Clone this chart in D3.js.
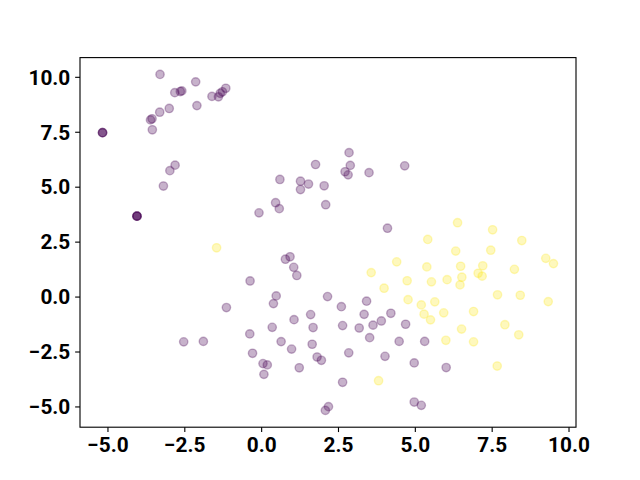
<!DOCTYPE html>
<html>
<head>
<meta charset="utf-8">
<script src="https://cdn.jsdelivr.net/npm/d3@7/dist/d3.min.js"></script>
<style>
  html, body { margin: 0; padding: 0; background: #ffffff; }
  svg { display: block; }
  .tick text { font-family: Roboto, "Liberation Sans", sans-serif; font-weight: bold; }
</style>
</head>
<body>
<svg id="chart" width="640" height="480"></svg>
<script>
// ---- data ----
const classA_x = [-3.29,-2.13,-2.81,-2.63,-2.58,-1.60,-1.39,-1.33,-1.26,-1.15,-2.09,-2.99,-3.30,-3.60,-3.55,-3.54,
  -5.16,-5.16,-5.16,-2.80,-2.97,-3.18,-4.04,-4.04,-4.04,-4.04,
  -0.07,0.61,0.47,0.59,1.28,1.28,1.54,1.77,2.86,2.90,2.73,2.83,3.51,4.67,2.05,2.10,4.11,
  0.79,0.94,1.06,1.16,-0.36,0.49,0.40,-1.13,1.61,1.07,1.69,0.36,-0.37,0.65,1.66,0.99,-2.52,-1.88,
  -0.28,0.06,0.20,0.09,1.24,1.82,1.96,2.16,2.61,3.43,3.35,4.22,3.91,3.64,2.65,3.19,4.70,3.53,4.49,
  5.32,2.85,4.03,4.98,6.02,2.65,4.98,5.21,2.09,2.19];
const classA_y = [10.11,9.77,9.28,9.33,9.36,9.11,9.09,9.25,9.32,9.48,8.69,8.56,8.39,8.04,8.09,7.59,
  7.46,7.46,7.46,5.98,5.73,5.03,3.66,3.66,3.66,3.66,
  3.81,5.33,4.27,4.00,5.25,4.87,5.12,6.01,6.55,5.97,5.68,5.54,5.64,5.95,5.04,4.18,3.11,
  1.70,1.81,1.33,0.96,0.71,0.03,-0.32,-0.50,-0.82,-1.05,-1.41,-1.40,-1.70,-2.05,-2.17,-2.39,-2.06,-2.04,
  -2.58,-3.05,-3.11,-3.54,-3.24,-2.75,-2.90,0.00,-0.46,-0.21,-0.81,-0.76,-1.11,-1.30,-1.32,-1.43,-1.26,-1.87,-2.04,
  -2.04,-2.56,-2.72,-3.02,-3.23,-3.90,-4.80,-4.95,-5.18,-5.01];
const classB_x = [-1.45,6.39,7.53,5.42,8.48,6.33,7.47,4.41,3.58,5.39,6.49,7.21,9.26,9.51,8.24,7.06,7.19,6.53,6.05,4.75,
  5.54,6.47,4.00,7.69,8.43,4.78,5.65,9.34,5.21,5.30,5.51,5.94,6.91,7.93,6.52,8.38,6.01,6.91,7.68,3.82];
const classB_y = [2.22,3.36,3.04,2.60,2.55,2.07,2.11,1.58,1.09,1.35,1.38,1.40,1.74,1.50,1.24,1.06,0.93,0.88,0.77,0.72,
  0.67,0.53,0.38,0.08,0.06,-0.14,-0.24,-0.23,-0.38,-0.80,-1.06,-0.74,-0.68,-1.28,-1.48,-1.74,-1.99,-2.06,-3.16,-3.83];
const classes = ["A", "B"];
const classColors = ["#440154", "#fde725"];
const xTicks = [-5, -2.5, 0, 2.5, 5, 7.5, 10];
const yTicks = [-5, -2.5, 0, 2.5, 5, 7.5, 10];

(function () {
  // ---- layout (matplotlib default figure) ----
  const W = 640, H = 480;
  const mLeft = 80, mRight = 576, mTop = 57.6, mBottom = 427.2;

  const points = [];
  classA_x.forEach((x, i) => points.push({x, y: classA_y[i], c: 0}));
  classB_x.forEach((x, i) => points.push({x, y: classB_y[i], c: 1}));

  function padded(ext) { const r = ext[1] - ext[0]; return [ext[0] - 0.05 * r, ext[1] + 0.05 * r]; }
  const xs = d3.scaleLinear().domain(padded(d3.extent(points, d => d.x))).range([mLeft, mRight]);
  const ys = d3.scaleLinear().domain(padded(d3.extent(points, d => d.y))).range([mBottom, mTop]);
  const color = d3.scaleOrdinal().domain([0, 1]).range(classColors);

  const svg = d3.select("#chart");
  svg.append("rect").attr("width", W).attr("height", H).attr("fill", "#ffffff");

  const fmt = v => d3.format(".1f")(v).replace("-", "\u2212").replace("\u2212", "\u2212");
  const tickLen = 4.86, pad = 4.86, fs = 20.8;

  svg.append("g").selectAll("circle").data(points).join("circle")
    .attr("cx", d => xs(d.x)).attr("cy", d => ys(d.y)).attr("r", 4.17)
    .attr("fill", d => color(d.c)).attr("fill-opacity", 0.3)
    .attr("stroke", d => color(d.c)).attr("stroke-opacity", 0.3).attr("stroke-width", 1.39);

  const gx = svg.append("g").attr("transform", `translate(0,${mBottom})`)
    .call(d3.axisBottom(xs).tickValues(xTicks).tickFormat(fmt).tickSize(tickLen).tickPadding(pad));
  gx.select(".domain").remove();
  gx.selectAll(".tick line").attr("stroke", "#000").attr("stroke-width", 1.11);
  gx.selectAll(".tick text").attr("font-size", fs).attr("fill", "#000").attr("dy", "0.72em");

  const gy = svg.append("g").attr("transform", `translate(${mLeft},0)`)
    .call(d3.axisLeft(ys).tickValues(yTicks).tickFormat(fmt).tickSize(tickLen).tickPadding(pad));
  gy.select(".domain").remove();
  gy.selectAll(".tick line").attr("stroke", "#000").attr("stroke-width", 1.11);
  gy.selectAll(".tick text").attr("font-size", fs).attr("fill", "#000").attr("dy", "0.35em");

  svg.append("rect").attr("x", mLeft).attr("y", mTop)
    .attr("width", mRight - mLeft).attr("height", mBottom - mTop)
    .attr("fill", "none").attr("stroke", "#000").attr("stroke-width", 1.11);
})();
</script>
</body>
</html>
